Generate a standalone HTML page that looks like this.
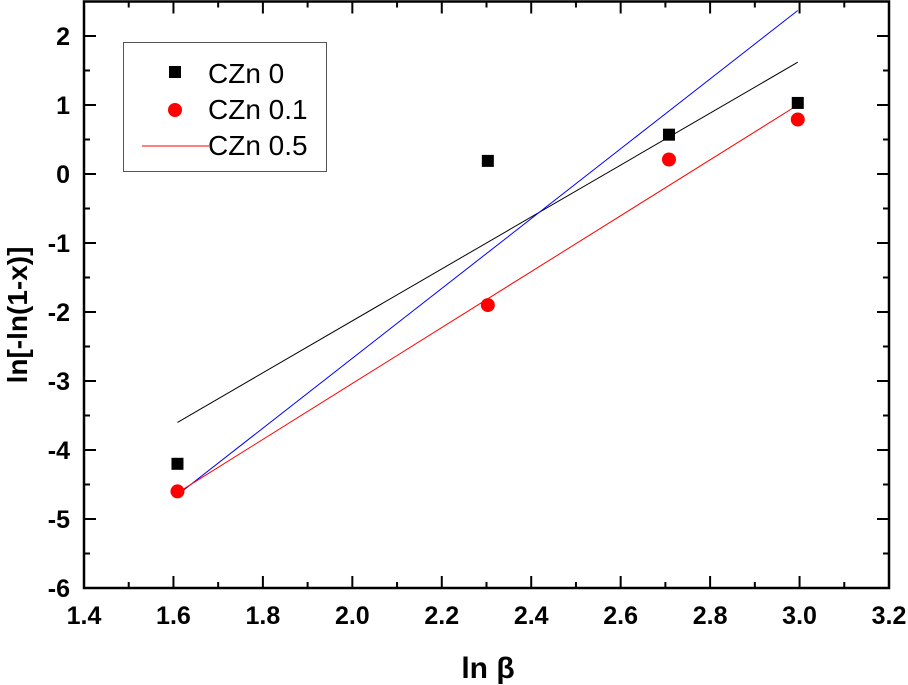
<!DOCTYPE html>
<html><head><meta charset="utf-8"><style>
body{margin:0;background:#fff}
svg{display:block;font-family:"Liberation Sans",Arial,sans-serif}
</style></head><body>
<svg id="c" width="908" height="685">
<g id="g"></g>
<text x="488" y="678" text-anchor="middle" font-size="30" font-weight="bold">ln β</text>
<text transform="translate(27,315) rotate(-90)" text-anchor="middle" font-size="28" font-weight="bold">ln[-ln(1-x)]</text>
<g>
<rect x="123.5" y="42.5" width="203" height="129" fill="#fff" stroke="#555" stroke-width="1"/>
<rect x="169" y="66" width="12" height="12" fill="#000"/>
<text x="208" y="83" font-size="28">CZn 0</text>
<circle cx="175" cy="110" r="7" fill="#ff0000"/>
<text x="208" y="119" font-size="28">CZn 0.1</text>
<line x1="142" y1="146" x2="209" y2="146" stroke="#ff0000" stroke-width="1"/>
<text x="208" y="155" font-size="28">CZn 0.5</text>
</g>
</svg>
<script>
const xTicks=[1.4,1.6,1.8,2.0,2.2,2.4,2.6,2.8,3.0,3.2];
const yTicks=[-6,-5,-4,-3,-2,-1,0,1,2];
const xLn=[1.609,2.303,2.708,2.996];
const czn0=[-4.2,0.19,0.57,1.03];
const czn01=[-4.6,-1.90,0.21,0.79];
const fitBlack=[[1.609,-3.6],[2.996,1.62]];
const fitBlue=[[1.609,-4.65],[2.996,2.37]];
const fitRed=[[1.609,-4.62],[2.996,1.0]];
const L=84,R=889,T=1.5,B=588;
function X(v){return L+(v-1.4)/(3.2-1.4)*(R-L);}
function Y(v){return B-(v+6)/(2.5+6)*(B-T);}
const NS="http://www.w3.org/2000/svg",g=document.getElementById('g');
function mk(t,a,txt){const e=document.createElementNS(NS,t);for(const k in a)e.setAttribute(k,a[k]);if(txt!==undefined)e.textContent=txt;g.appendChild(e);return e;}
function ln(p,col,name){const e=mk('line',{x1:X(p[0][0]),y1:Y(p[0][1]),x2:X(p[1][0]),y2:Y(p[1][1]),stroke:col,'stroke-width':1});

}
ln(fitBlack,'#000','fit-line-czn0');
ln(fitBlue,'#0000ff','fit-line-blue');
ln(fitRed,'#ff0000','fit-line-czn0.5');
xLn.forEach((x,i)=>{const e=mk('rect',{x:X(x)-6,y:Y(czn0[i])-6,width:12,height:12,fill:'#000'});

});
xLn.forEach((x,i)=>{const e=mk('circle',{cx:X(x),cy:Y(czn01[i]),r:7,fill:'#ff0000'});

});
const ax=mk('rect',{x:L,y:T,width:R-L,height:B-T,fill:'none',stroke:'#000','stroke-width':2.5});


xTicks.forEach((v,i)=>{const x=X(v);
mk('line',{x1:x,y1:B,x2:x,y2:B-12,stroke:'#000','stroke-width':2});
mk('line',{x1:x,y1:T,x2:x,y2:T+12,stroke:'#000','stroke-width':2});
if(i<xTicks.length-1){const xm=X(v+0.1);mk('line',{x1:xm,y1:B,x2:xm,y2:B-6,stroke:'#000','stroke-width':2});mk('line',{x1:xm,y1:T,x2:xm,y2:T+6,stroke:'#000','stroke-width':2});}
const t=mk('text',{x:x,y:B+36,'text-anchor':'middle','font-size':25,'font-weight':'bold'},v.toFixed(1));

});
yTicks.forEach((v,i)=>{const y=Y(v);
mk('line',{x1:L,y1:y,x2:L+12,y2:y,stroke:'#000','stroke-width':2});
mk('line',{x1:R,y1:y,x2:R-12,y2:y,stroke:'#000','stroke-width':2});
const ym=Y(v+0.5);mk('line',{x1:L,y1:ym,x2:L+6,y2:ym,stroke:'#000','stroke-width':2});mk('line',{x1:R,y1:ym,x2:R-6,y2:ym,stroke:'#000','stroke-width':2});
const t=mk('text',{x:L-14,y:y+9,'text-anchor':'end','font-size':25,'font-weight':'bold'},String(v));

});
</script>
</body></html>
